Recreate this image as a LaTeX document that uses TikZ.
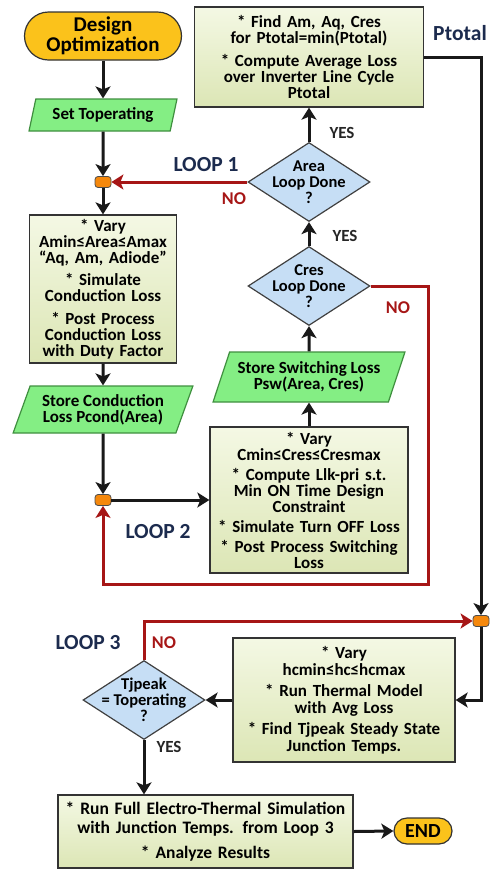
\documentclass[tikz,border=0pt]{standalone}
\usepackage{fontspec}
\setmainfont{Carlito}
\usepackage{xcolor}
\usepackage{tikz}
\usetikzlibrary{arrows.meta, shapes.geometric}

\definecolor{termGold}{HTML}{FBC21B}
\definecolor{ioGreen}{HTML}{84EE84}
\definecolor{ioDark}{HTML}{3F8F3F}
\definecolor{procTop}{HTML}{F4F8E4}
\definecolor{procBot}{HTML}{DCE6B5}
\definecolor{decBlue}{HTML}{C6DEF5}
\definecolor{joinOrange}{HTML}{F5880C}
\definecolor{loopRed}{HTML}{A61616}
\definecolor{loopNavy}{HTML}{1C2B4E}

\begin{document}
\begin{tikzpicture}[
  x=1pt, y=-1pt,
  txt/.style={font=\fontsize{17pt}{16pt}\selectfont\bfseries, align=center},
  dtxt/.style={font=\fontsize{16.5pt}{16pt}\selectfont\bfseries, align=center},
  terminal/.style={draw=black!80, line width=1.2pt, fill=termGold,
                   inner sep=0pt, align=center},
  process/.style={draw=black!80, line width=1.3pt, top color=procTop,
                  bottom color=procBot, inner sep=0pt, txt},
  io/.style={trapezium, trapezium stretches=true, draw=ioDark,
             line width=1.2pt, fill=ioGreen, inner sep=0pt, txt},
  decision/.style={diamond, draw=black!75, line width=1.2pt, fill=decBlue,
                   inner sep=0pt, minimum width=122pt, minimum height=79pt},
  junction/.style={draw=black!70, line width=0.8pt, fill=joinOrange,
               rounded corners=3pt, minimum width=16pt, minimum height=11pt,
               inner sep=0pt},
  flow/.style={line width=3pt, draw=black!90,
               -{Stealth[length=12pt, width=15pt, inset=3pt]}},
  noflow/.style={flow, draw=loopRed},
  looplbl/.style={text=loopNavy, font=\fontsize{21.5pt}{22pt}\selectfont\bfseries},
  nolbl/.style={text=loopRed, font=\fontsize{18pt}{18pt}\selectfont\bfseries},
  yeslbl/.style={text=black!85, font=\fontsize{17pt}{17pt}\selectfont\bfseries},
]
  \useasboundingbox (0,0) rectangle (495,871);

  % Left column: conduction loss
  \node[terminal, minimum width=157pt, minimum height=48pt, rounded corners=24pt,
        font=\fontsize{21pt}{20pt}\selectfont\bfseries] (start) at (103,36)
    {Design\\Optimization};
  \node[io, trapezium left angle=71, trapezium right angle=109,
        minimum width=148pt, minimum height=32pt] (settop) at (103,115)
    {Set Toperating};
  \node[junction] (join1) at (103,182) {};
  \node[process, minimum width=147pt, minimum height=148pt, text width=145pt]
    (areabox) at (103,289)
    {* Vary\\Amin≤Area≤Amax\\“Aq, Am, Adiode”\\[6pt]* Simulate\\Conduction Loss\\[7pt]%
     * Post Process\\Conduction Loss\\with Duty Factor};
  \node[io, trapezium left angle=65, trapezium right angle=115,
        minimum width=180pt, minimum height=47pt] (storecond) at (103,409.5)
    {Store Conduction\\Loss Pcond(Area)};
  \node[junction] (join2) at (103,500) {};

  % Middle column: switching loss
  \node[process, minimum width=198pt, minimum height=146pt, text width=196pt]
    (swbox) at (309,500)
    {* Vary\\Cmin≤Cres≤Cresmax\\[4pt]* Compute Llk-pri s.t.\\Min ON Time Design\\Constraint\\[4pt]%
     * Simulate Turn OFF Loss\\[4pt]* Post Process Switching\\Loss};
  \node[io, trapezium left angle=64, trapezium right angle=116,
        minimum width=192pt, minimum height=50pt] (storesw) at (309,377)
    {Store Switching Loss\\Psw(Area, Cres)};
  \node[decision, label={[dtxt]center:{Cres\\Loop Done\\?}}] (cresq) at (309,286) {};
  \node[decision, label={[dtxt]center:{Area\\Loop Done\\?}}] (areaq) at (309,182) {};
  \node[process, minimum width=229pt, minimum height=100pt, text width=227pt]
    (findbox) at (309,57)
    {* Find Am, Aq, Cres\\for Ptotal=min(Ptotal)\\[7pt]* Compute Average Loss\\%
     over Inverter Line Cycle\\Ptotal};

  % Thermal loop
  \node[junction] (join3) at (481,621) {};
  \node[process, minimum width=222pt, minimum height=124pt, text width=220pt,
        font=\fontsize{17pt}{17pt}\selectfont\bfseries] (thermbox) at (344,700)
    {* Vary\\hcmin≤hc≤hcmax\\[4pt]* Run Thermal Model\\with Avg Loss\\[4pt]%
     * Find Tjpeak Steady State\\Junction Temps.};
  \node[decision, label={[dtxt]center:{Tjpeak\\= Toperating\\?}}] (tjq) at (144,700) {};
  \node[process, minimum width=295pt, minimum height=73pt, text width=293pt,
        font=\fontsize{17.5pt}{19pt}\selectfont\bfseries] (finalbox) at (205.5,831.5)
    {* Run Full Electro-Thermal Simulation\\with Junction Temps. from Loop 3\\[6pt]%
     * Analyze Results};
  \node[terminal, minimum width=58pt, minimum height=26pt, rounded corners=13pt,
        font=\fontsize{20pt}{20pt}\selectfont\bfseries] (finish) at (423,831) {END};

  % Labels
  \node[looplbl] (loop1) at (206,165) {LOOP 1};
  \node[nolbl] (no1) at (234,199) {NO};
  \node[yeslbl] (yes1) at (342,133) {YES};
  \node[yeslbl] (yes2) at (345,236) {YES};
  \node[nolbl] (no2) at (398,308) {NO};
  \node[looplbl] (loop2) at (158,532) {LOOP 2};
  \node[looplbl] (ptot) at (460,33) {Ptotal};
  \node[looplbl] (loop3) at (88,643) {LOOP 3};
  \node[nolbl] (no3) at (164,643) {NO};
  \node[yeslbl] (yes3) at (169,747) {YES};

  % Connectors
  \draw[flow] (start) -- (settop);
  \draw[flow] (settop) -- (join1);
  \draw[flow] (join1) -- (areabox);
  \draw[flow] (areabox) -- (storecond);
  \draw[flow] (storecond) -- (join2);
  \draw[flow] (join2) -- (swbox);
  \draw[flow] (swbox) -- (storesw);
  \draw[flow] (storesw) -- (cresq);
  \draw[flow] (cresq) -- (areaq);
  \draw[flow] (areaq) -- (findbox);
  \draw[noflow] (areaq.west) -- (join1.east);
  \coordinate (loop2corner) at (428,584);
  \draw[noflow] (cresq.east) -| (loop2corner) -| (join2.south);
  \draw[flow] (findbox.east) -| (join3.north);
  \draw[flow] (join3.south) |- (thermbox.east);
  \draw[flow] (thermbox.west) -- (tjq.east);
  \draw[noflow] (tjq.north) |- (join3.west);
  \draw[flow] (tjq.south) -- (tjq.south |- finalbox.north);
  \draw[flow] (finalbox.east) -- (finish.west);

\end{tikzpicture}
\end{document}
